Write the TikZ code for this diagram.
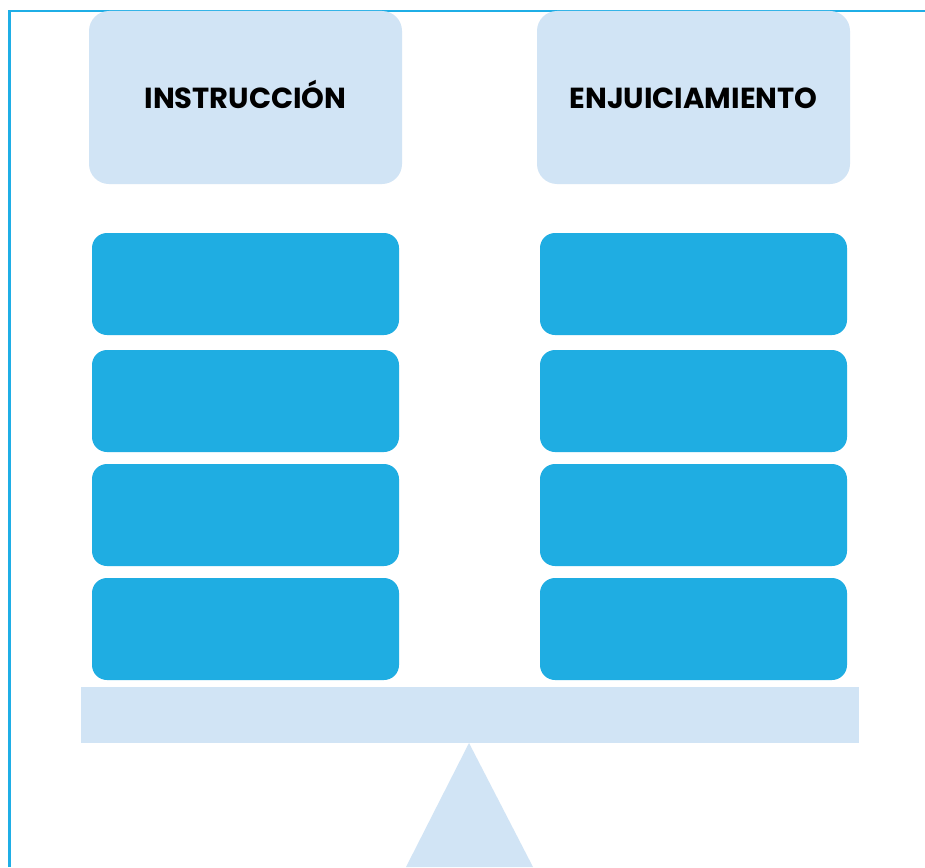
\documentclass[tikz,border=0pt]{standalone}
\usepackage{fontspec}
\setmainfont{Poppins}
\definecolor{frame}{HTML}{1FAEE6}
\definecolor{pale}{HTML}{D1E4F5}
\definecolor{bluebox}{HTML}{1FADE2}
\begin{document}
\begin{tikzpicture}[x=1pt,y=-1pt,
  header/.style={fill=pale,rounded corners=20pt},
  item/.style={fill=bluebox,rounded corners=15pt},
  label/.style={font=\fontsize{29}{32}\selectfont\bfseries,text=black,anchor=base,inner sep=0pt}]
\useasboundingbox (0,0) rectangle (925,867);
\fill[white] (0,0) rectangle (925,867);
\draw[frame,line width=2.2pt] (9.5,867) -- (9.5,11) -- (925,11);
% headers
\fill[header] (89,11) rectangle (402,184);
\fill[header] (537,11) rectangle (850,184);
\node[label] (hl) at (245.5,108) {INSTRUCCIÓN};
\node[label] (hr) at (693.5,108) {ENJUICIAMIENTO};
% items
\foreach \i/\t/\b in {1/233/335,2/350/452,3/464/566,4/578/680}{
  \fill[item] (92,\t) rectangle (399,\b);
  \fill[item] (540,\t) rectangle (847,\b);
}
% beam and fulcrum
\fill[pale] (81,687) rectangle (859,743);
\fill[pale] (469,743) -- (533,867) -- (406,867) -- cycle;
\end{tikzpicture}
\end{document}
